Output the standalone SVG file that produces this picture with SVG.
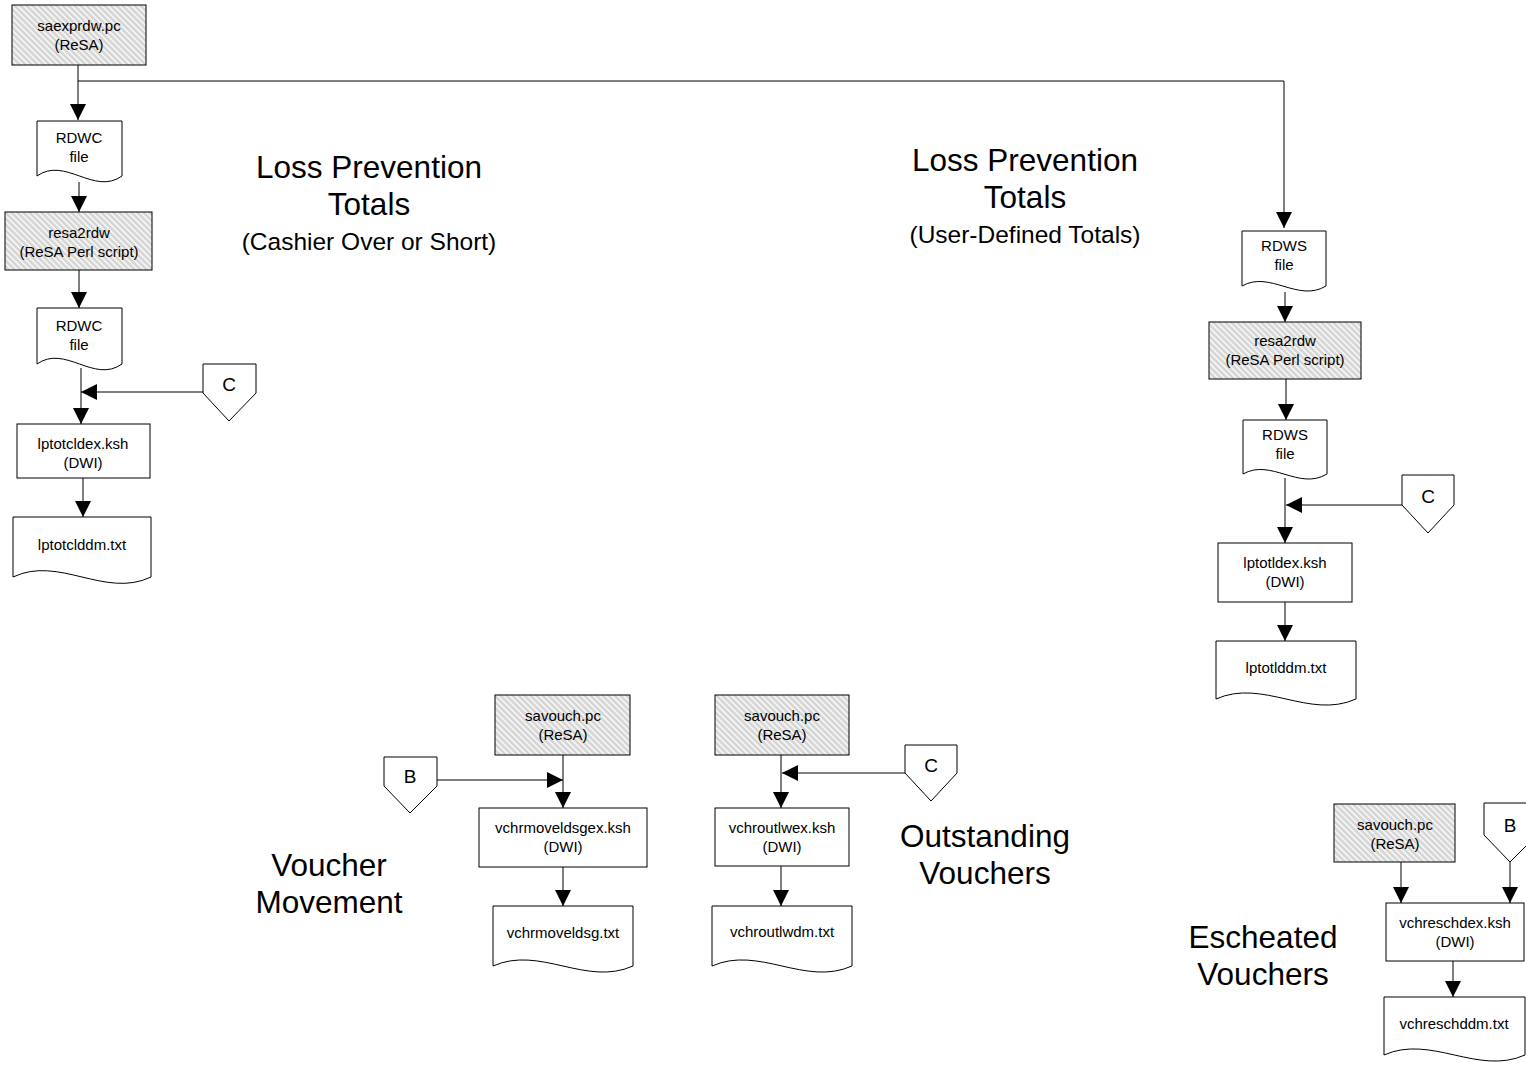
<svg xmlns="http://www.w3.org/2000/svg" width="1526" height="1065" viewBox="0 0 1526 1065">
<defs>
<pattern id="hatch" width="6" height="6" patternUnits="userSpaceOnUse">
<rect width="6" height="6" fill="#d6d6d6"/>
<path d="M0,0 L6,6 M-3,3 L3,9 M3,-3 L9,3" stroke="#f6f6f6" stroke-width="1.6"/>
</pattern>
<marker id="arr" markerUnits="userSpaceOnUse" markerWidth="18" markerHeight="18" refX="16" refY="8" orient="auto">
<path d="M0,0 L16,8 L0,16 Z" fill="#000"/>
</marker>
<style>
.box{stroke:#000;stroke-width:1;fill:#fff}
.hb{stroke:#000;stroke-width:1;fill:url(#hatch)}
.ln{stroke:#000;stroke-width:1;fill:none}
.t{font-family:"Liberation Sans",Arial,sans-serif;font-size:15px;fill:#000;text-anchor:middle}
.h{font-family:"Liberation Sans",Arial,sans-serif;font-size:31.5px;fill:#000;text-anchor:middle}
.s{font-family:"Liberation Sans",Arial,sans-serif;font-size:24.5px;fill:#000;text-anchor:middle}
.c{font-family:"Liberation Sans",Arial,sans-serif;font-size:19px;fill:#000;text-anchor:middle}
</style>
</defs>
<rect width="1526" height="1065" fill="#fff"/>

<!-- headings -->
<g id="heading-cashier">
<text class="h" x="369" y="178">Loss Prevention</text>
<text class="h" x="369" y="215">Totals</text>
<text class="s" x="369" y="250">(Cashier Over or Short)</text>
</g>
<g id="heading-user">
<text class="h" x="1025" y="171">Loss Prevention</text>
<text class="h" x="1025" y="208">Totals</text>
<text class="s" x="1025" y="243">(User-Defined Totals)</text>
</g>
<g id="heading-vm">
<text class="h" x="329" y="876">Voucher</text>
<text class="h" x="329" y="913">Movement</text>
</g>
<g id="heading-ov">
<text class="h" x="985" y="847">Outstanding</text>
<text class="h" x="985" y="884">Vouchers</text>
</g>
<g id="heading-ev">
<text class="h" x="1263" y="948">Escheated</text>
<text class="h" x="1263" y="985">Vouchers</text>
</g>

<!-- connectors -->
<g id="connectors">
<path class="ln" d="M78,65 V120" marker-end="url(#arr)"/>
<path class="ln" d="M78,81 H1284 V228" marker-end="url(#arr)"/>
<path class="ln" d="M79,182 V212" marker-end="url(#arr)"/>
<path class="ln" d="M79,270 V308" marker-end="url(#arr)"/>
<path class="ln" d="M81,368 V424" marker-end="url(#arr)"/>
<path class="ln" d="M203,392 H81" marker-end="url(#arr)"/>
<path class="ln" d="M83,478 V517" marker-end="url(#arr)"/>

<path class="ln" d="M1285,292 V322" marker-end="url(#arr)"/>
<path class="ln" d="M1286,379 V420" marker-end="url(#arr)"/>
<path class="ln" d="M1285,478 V543" marker-end="url(#arr)"/>
<path class="ln" d="M1402,505 H1286" marker-end="url(#arr)"/>
<path class="ln" d="M1285,602 V641" marker-end="url(#arr)"/>

<path class="ln" d="M563,755 V808" marker-end="url(#arr)"/>
<path class="ln" d="M437,780 H563" marker-end="url(#arr)"/>
<path class="ln" d="M563,867 V906" marker-end="url(#arr)"/>

<path class="ln" d="M781,755 V808" marker-end="url(#arr)"/>
<path class="ln" d="M905,773 H782" marker-end="url(#arr)"/>
<path class="ln" d="M781,866 V906" marker-end="url(#arr)"/>

<path class="ln" d="M1401,862 V903" marker-end="url(#arr)"/>
<path class="ln" d="M1510,862 V903" marker-end="url(#arr)"/>
<path class="ln" d="M1453,961 V997" marker-end="url(#arr)"/>
</g>

<!-- left column -->
<g id="saexprdw">
<rect class="hb" x="12" y="5" width="134" height="60"/>
<text class="t" x="79" y="31">saexprdw.pc</text>
<text class="t" x="79" y="50">(ReSA)</text>
</g>
<g id="rdwc1">
<path class="box" d="M37,121 H122 V176 C94,196 65,156 37,176 Z"/>
<text class="t" x="79" y="143">RDWC</text>
<text class="t" x="79" y="162">file</text>
</g>
<g id="resa2rdw1">
<rect class="hb" x="5" y="212" width="147" height="58"/>
<text class="t" x="79" y="238">resa2rdw</text>
<text class="t" x="79" y="257">(ReSA Perl script)</text>
</g>
<g id="rdwc2">
<path class="box" d="M37,308 H122 V364 C94,384 65,344 37,364 Z"/>
<text class="t" x="79" y="331">RDWC</text>
<text class="t" x="79" y="350">file</text>
</g>
<g id="offC1">
<path class="box" d="M203,364 H256 V393 L229,421 L203,393 Z"/>
<text class="c" x="229" y="391">C</text>
</g>
<g id="lptotcldex">
<rect class="box" x="17" y="424" width="133" height="54"/>
<text class="t" x="83" y="449">lptotcldex.ksh</text>
<text class="t" x="83" y="468">(DWI)</text>
</g>
<g id="lptotclddm">
<path class="box" d="M13,517 H151 V577 C105,599 59,555 13,577 Z"/>
<text class="t" x="82" y="550">lptotclddm.txt</text>
</g>

<!-- right column -->
<g id="rdws1">
<path class="box" d="M1242,231 H1326 V286 C1298,303 1270,270 1242,286 Z"/>
<text class="t" x="1284" y="251">RDWS</text>
<text class="t" x="1284" y="270">file</text>
</g>
<g id="resa2rdw2">
<rect class="hb" x="1209" y="322" width="152" height="57"/>
<text class="t" x="1285" y="346">resa2rdw</text>
<text class="t" x="1285" y="365">(ReSA Perl script)</text>
</g>
<g id="rdws2">
<path class="box" d="M1243,420 H1327 V474 C1299,491 1271,458 1243,474 Z"/>
<text class="t" x="1285" y="440">RDWS</text>
<text class="t" x="1285" y="459">file</text>
</g>
<g id="offC2">
<path class="box" d="M1402,475 H1454 V505 L1428,533 L1402,505 Z"/>
<text class="c" x="1428" y="503">C</text>
</g>
<g id="lptotldex">
<rect class="box" x="1218" y="543" width="134" height="59"/>
<text class="t" x="1285" y="568">lptotldex.ksh</text>
<text class="t" x="1285" y="587">(DWI)</text>
</g>
<g id="lptotlddm">
<path class="box" d="M1216,641 H1356 V699 C1309,720 1263,678 1216,699 Z"/>
<text class="t" x="1286" y="673">lptotlddm.txt</text>
</g>

<!-- voucher movement -->
<g id="savouch1">
<rect class="hb" x="495" y="695" width="135" height="60"/>
<text class="t" x="563" y="721">savouch.pc</text>
<text class="t" x="563" y="740">(ReSA)</text>
</g>
<g id="offB1">
<path class="box" d="M384,757 H437 V786 L410,813 L384,786 Z"/>
<text class="c" x="410" y="783">B</text>
</g>
<g id="vchrmoveldsgex">
<rect class="box" x="479" y="808" width="168" height="59"/>
<text class="t" x="563" y="833">vchrmoveldsgex.ksh</text>
<text class="t" x="563" y="852">(DWI)</text>
</g>
<g id="vchrmoveldsg">
<path class="box" d="M493,906 H633 V966 C586,987 540,945 493,966 Z"/>
<text class="t" x="563" y="938">vchrmoveldsg.txt</text>
</g>

<!-- outstanding vouchers -->
<g id="savouch2">
<rect class="hb" x="715" y="695" width="134" height="60"/>
<text class="t" x="782" y="721">savouch.pc</text>
<text class="t" x="782" y="740">(ReSA)</text>
</g>
<g id="offC3">
<path class="box" d="M905,745 H957 V773 L931,801 L905,773 Z"/>
<text class="c" x="931" y="772">C</text>
</g>
<g id="vchroutlwex">
<rect class="box" x="715" y="808" width="134" height="58"/>
<text class="t" x="782" y="833">vchroutlwex.ksh</text>
<text class="t" x="782" y="852">(DWI)</text>
</g>
<g id="vchroutlwdm">
<path class="box" d="M712,906 H852 V966 C805,987 759,945 712,966 Z"/>
<text class="t" x="782" y="937">vchroutlwdm.txt</text>
</g>

<!-- escheated vouchers -->
<g id="savouch3">
<rect class="hb" x="1334" y="804" width="121" height="58"/>
<text class="t" x="1395" y="830">savouch.pc</text>
<text class="t" x="1395" y="849">(ReSA)</text>
</g>
<g id="offB2">
<path class="box" d="M1484,803 H1537 V835 L1510,862 L1484,835 Z"/>
<text class="c" x="1510" y="832">B</text>
</g>
<g id="vchreschdex">
<rect class="box" x="1386" y="903" width="138" height="58"/>
<text class="t" x="1455" y="928">vchreschdex.ksh</text>
<text class="t" x="1455" y="947">(DWI)</text>
</g>
<g id="vchreschddm">
<path class="box" d="M1384,997 H1525 V1055 C1478,1076 1431,1034 1384,1055 Z"/>
<text class="t" x="1454" y="1029">vchreschddm.txt</text>
</g>
</svg>
